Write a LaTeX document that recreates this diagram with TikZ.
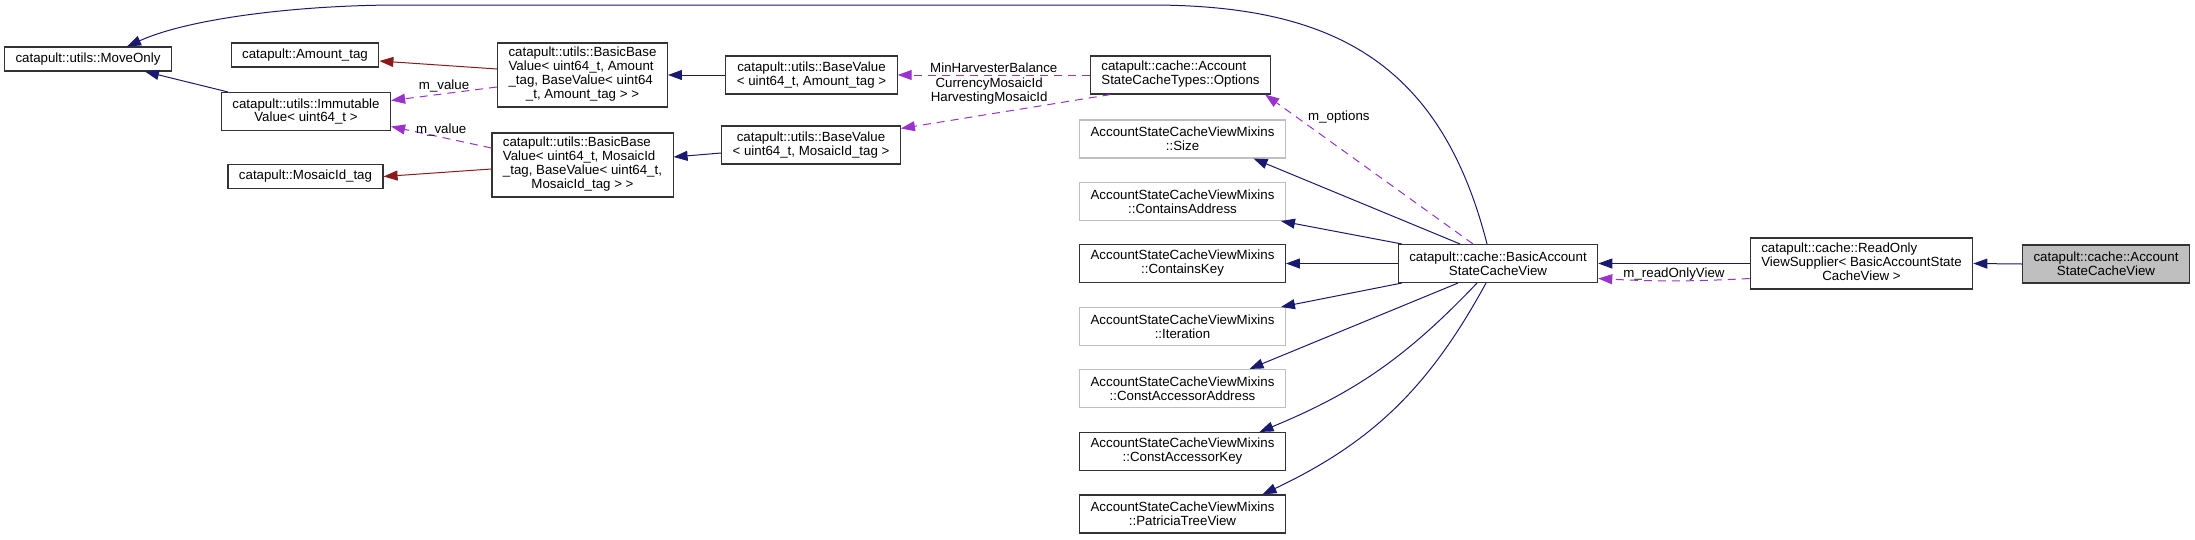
\documentclass[tikz,border=0pt]{standalone}
\usepackage{fontspec}
\setmainfont{Liberation Sans}
\usetikzlibrary{arrows.meta}

\definecolor{inhblue}{RGB}{25,25,112}
\definecolor{tmplred}{RGB}{139,26,26}
\definecolor{usepurple}{RGB}{154,50,205}
\definecolor{boxgray}{RGB}{191,191,191}

% first lines left, last line centred
\newcommand{\leftlines}[1]{\begin{tabular}{@{}l@{}}#1\end{tabular}}
\newcommand{\lastc}[1]{\multicolumn{1}{@{}c@{}}{#1}}

\tikzset{
	box/.style={draw=black!80, line width=1.1pt, fill=white, inner xsep=11pt, inner ysep=2pt, align=center, font=\fontsize{13.3}{13.9}\selectfont},
	graybox/.style={box, draw=boxgray},
	rootbox/.style={box, fill=boxgray},
	oneline/.style={minimum height=24pt},
	twoline/.style={minimum height=38pt},
	threeline/.style={minimum height=51pt},
	fourline/.style={minimum height=64pt},
	inherit/.style={draw=inhblue, line width=1pt, -{Triangle[length=14pt,width=10pt]}},
	tmpl/.style={inherit, draw=tmplred},
	member/.style={inherit, draw=usepurple, dash pattern=on 8pt off 6pt},
	lbl/.style={font=\fontsize{13.3}{13.9}\selectfont, inner sep=1pt}
}

\begin{document}
\begin{tikzpicture}[x=1pt, y=-1pt]
			\useasboundingbox (0, 0) rectangle (2195, 539);

			\draw (88, 59) 		node[box, oneline] 	(moveonly) 		{catapult::utils::MoveOnly};
			\draw (305, 55) 	node[box, oneline] 	(amounttag) 	{catapult::Amount\_tag};
			\draw (306, 111.5) 	node[box, twoline] 	(immutable) 	{catapult::utils::Immutable\\Value< uint64\_t >};
			\draw (305.5, 176.5) 	node[box, oneline] 	(mosaictag) 	{catapult::MosaicId\_tag};
			\draw (582.5, 75) 	node[box, fourline] 	(basicamount) 	{\leftlines{catapult::utils::BasicBase\\Value< uint64\_t, Amount\\\_tag, BaseValue< uint64\\\lastc{\_t, Amount\_tag > >}}};
			\draw (582.5, 165) 	node[box, fourline] 	(basicmosaic) 	{\leftlines{catapult::utils::BasicBase\\Value< uint64\_t, MosaicId\\\_tag, BaseValue< uint64\_t,\\\lastc{MosaicId\_tag > >}}};
			\draw (811.5, 75) 	node[box, twoline] 	(baseamount) 	{catapult::utils::BaseValue\\< uint64\_t, Amount\_tag >};
			\draw (811, 145) 	node[box, twoline] 	(basemosaic) 	{catapult::utils::BaseValue\\< uint64\_t, MosaicId\_tag >};
			\draw (1180.5, 75) 	node[box, twoline] 	(options) 		{\leftlines{catapult::cache::Account\\StateCacheTypes::Options}};
			\draw (1182.5, 139) 	node[graybox, twoline] 	(size) 		{AccountStateCacheViewMixins\\::Size};
			\draw (1182.5, 201.5) 	node[graybox, twoline] 	(containsaddr) 	{AccountStateCacheViewMixins\\::ContainsAddress};
			\draw (1182.5, 263.5) 	node[box, twoline] 	(containskey) 	{AccountStateCacheViewMixins\\::ContainsKey};
			\draw (1182.5, 326.5) 	node[graybox, twoline] 	(iteration) 	{AccountStateCacheViewMixins\\::Iteration};
			\draw (1182.5, 388.5) 	node[graybox, twoline] 	(constaddr) 	{AccountStateCacheViewMixins\\::ConstAccessorAddress};
			\draw (1182.5, 451.5) 	node[box, twoline] 	(constkey) 		{AccountStateCacheViewMixins\\::ConstAccessorKey};
			\draw (1182.5, 514) 	node[box, twoline] 	(patricia) 		{AccountStateCacheViewMixins\\::PatriciaTreeView};
			\draw (1498, 263.5) 	node[box, twoline] 	(basicview) 	{catapult::cache::BasicAccount\\StateCacheView};
			\draw (1861.5, 263.5) 	node[box, threeline] 	(readonly) 		{\leftlines{catapult::cache::ReadOnly\\ViewSupplier< BasicAccountState\\\lastc{CacheView >}}};
			\draw (2106, 264) 	node[rootbox, twoline] 	(cacheview) 	{catapult::cache::Account\\StateCacheView};

			% base classes and members on the left
			\draw[inherit] ([xshift=-11pt]basicview.north) .. controls (1440, 60) and (1330, 5) .. (1150, 5) -- (400, 5) .. controls (300, 5) and (190, 18) .. ([xshift=39pt]moveonly.north);
			\draw[inherit] ([xshift=7pt]immutable.north west) -- ([xshift=57pt]moveonly.south);
			\draw[tmpl] ([yshift=6pt]basicamount.west) -- ([yshift=-6pt]amounttag.east);
			\draw[member] ([yshift=-12pt]basicamount.west) -- node[lbl, above] {m\_value} ([yshift=11pt]immutable.east);
			\draw[member] ([yshift=17pt]basicmosaic.west) -- node[lbl, above] {m\_value} ([yshift=-15pt]immutable.east);
			\draw[tmpl] ([yshift=-4pt]basicmosaic.west) -- (mosaictag.east);
			\draw[inherit] (baseamount.west) -- (basicamount.east);
			\draw[inherit] ([yshift=-8pt]basemosaic.west) -- ([yshift=8pt]basicmosaic.east);
			\draw[member] (options.west) -- node[lbl, above=1pt] {MinHarvesterBalance} (baseamount.east);
			\draw[member] ([xshift=-70pt]options.south) -- node[lbl, above=8pt, xshift=-4pt, pos=.56, align=center] {CurrencyMosaicId\\HarvestingMosaicId} ([yshift=-3pt]basemosaic.north east);
			\draw[member] ([xshift=-25pt]basicview.north) -- node[lbl, pos=.8, anchor=south west] {m\_options} ([xshift=-6pt]options.south east);

			% mixins
			\draw[inherit] ([xshift=-38pt]basicview.north) -- ([xshift=71pt]size.south);
			\draw[inherit] ([xshift=4pt]basicview.north west) -- ([xshift=-5pt]containsaddr.south east);
			\draw[inherit] (basicview.west) -- (containskey.east);
			\draw[inherit] ([xshift=4pt]basicview.south west) -- ([xshift=-5pt]iteration.north east);
			\draw[inherit] ([xshift=-40pt]basicview.south) -- ([xshift=67pt]constaddr.north);
			\draw[inherit] ([xshift=-21pt]basicview.south) to[bend left=12] ([xshift=77pt]constkey.north);
			\draw[inherit] ([xshift=-12pt]basicview.south) to[bend left=18] ([xshift=80pt]patricia.north);

			% right side
			\draw[inherit] (readonly.west) -- (basicview.east);
			\draw[member] ([yshift=-15pt]readonly.west) to[bend left=3] node[lbl, above=-1pt] {m\_readOnlyView} ([yshift=-15pt]basicview.east);
			\draw[inherit] (cacheview.west) -- (readonly.east);
		\end{tikzpicture}
\end{document}
